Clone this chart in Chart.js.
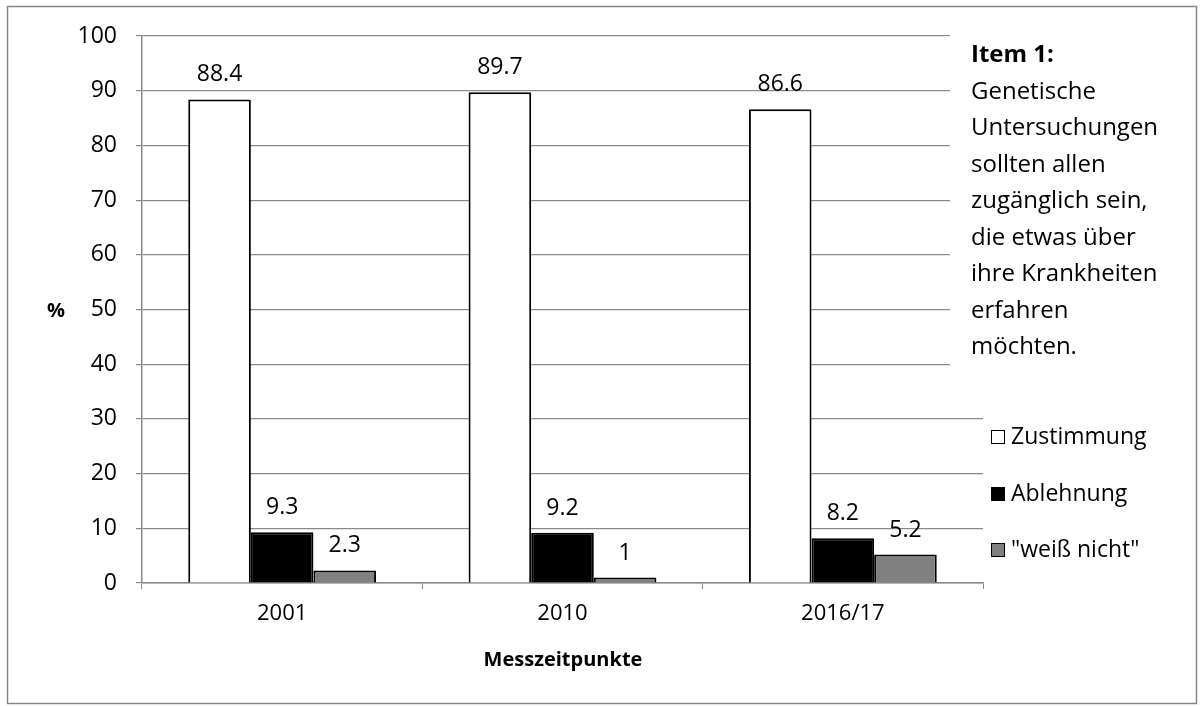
<!DOCTYPE html>
<html lang="de">
  <head>
    <meta charset="UTF-8" />
    <title>Item 1 – Messzeitpunkte</title>
    <script src="https://cdn.jsdelivr.net/npm/chart.js"></script>
    <style>
      body { margin: 0; background: #fff; }
    </style>
  </head>
  <body>
    <canvas id="itemChart" width="1204" height="706"></canvas>
    <script>
      const years = ["2001", "2010", "2016/17"];
      const zustimmung = [88.4, 89.7, 86.6];
      const ablehnung = [9.3, 9.2, 8.2];
      const weissNicht = [2.3, 1, 5.2];
      const seriesNames = ["Zustimmung", "Ablehnung", "\"weiß nicht\""];
      const itemText = [
        "Genetische",
        "Untersuchungen",
        "sollten allen",
        "zugänglich sein,",
        "die etwas über",
        "ihre Krankheiten",
        "erfahren",
        "möchten."
      ];

      const FONT = "'Open Sans', 'Liberation Sans', sans-serif";
      const GRID = "#8a8a8a";

      // values above the bars, frame, item text and legend
      const extras = {
        id: "extras",
        beforeDraw(chart) {
          const c = chart.ctx;
          c.save();
          c.fillStyle = "#fff";
          c.fillRect(0, 0, chart.width, chart.height);
          c.restore();
        },
        afterDatasetsDraw(chart) {
          const c = chart.ctx;
          c.save();
          c.font = "23px " + FONT;
          c.fillStyle = "#000";
          c.textAlign = "center";
          c.textBaseline = "alphabetic";
          chart.data.datasets.forEach((ds, i) => {
            chart.getDatasetMeta(i).data.forEach((bar, j) => {
              c.fillText(String(ds.data[j]), bar.x, bar.y - 18);
            });
          });
          c.restore();
        },
        afterDraw(chart) {
          const c = chart.ctx;
          c.save();
          // outer frame
          c.strokeStyle = "#868686";
          c.lineWidth = 1.5;
          c.strokeRect(7.5, 6.5, 1189, 697);

          // text box covering the grid
          c.fillStyle = "#fff";
          c.fillRect(950, 24, 240, 368);
          c.fillStyle = "#000";
          c.textAlign = "left";
          c.textBaseline = "alphabetic";
          c.font = "bold 24px " + FONT;
          c.fillText("Item 1:", 971, 62);
          c.font = "24px " + FONT;
          itemText.forEach((t, k) => c.fillText(t, 971, 98.5 + k * 36.5));

          // legend
          const ys = [437, 494, 550];
          c.font = "23px " + FONT;
          c.textBaseline = "middle";
          chart.data.datasets.forEach((ds, i) => {
            c.fillStyle = ds.backgroundColor;
            c.fillRect(991, ys[i] - 7, 14, 14);
            c.strokeStyle = "#000";
            c.lineWidth = 1;
            c.strokeRect(991.5, ys[i] - 6.5, 13, 13);
            c.fillStyle = "#000";
            c.fillText(ds.label, 1011, ys[i]);
          });

          // axis titles
          c.font = "bold 20px " + FONT;
          c.textAlign = "center";
          c.fillText("%", 56, 311);
          c.fillText("Messzeitpunkte", 563, 660);
          c.restore();
        }
      };

      const ctx = document.getElementById("itemChart").getContext("2d");
      new Chart(ctx, {
        type: "bar",
        data: {
          labels: years,
          datasets: [
            {
              label: seriesNames[0],
              data: zustimmung,
              backgroundColor: "#ffffff",
              borderColor: "#000000",
              borderWidth: 2
            },
            {
              label: seriesNames[1],
              data: ablehnung,
              backgroundColor: "#000000",
              borderColor: "#000000",
              borderWidth: 2
            },
            {
              label: seriesNames[2],
              data: weissNicht,
              backgroundColor: "#808080",
              borderColor: "#000000",
              borderWidth: 2
            }
          ]
        },
        options: {
          responsive: false,
          animation: false,
          layout: { padding: { top: 36, right: 221, left: 0, bottom: 0 } },
          datasets: {
            bar: { categoryPercentage: 0.67, barPercentage: 1.0 }
          },
          plugins: {
            legend: { display: false },
            tooltip: { enabled: false }
          },
          scales: {
            x: {
              afterFit(s) { s.height = 123; },
              grid: {
                offset: true,
                drawOnChartArea: false,
                drawTicks: true,
                tickLength: 6,
                color: GRID
              },
              border: { color: GRID, width: 1.5 },
              ticks: {
                color: "#000",
                padding: 12,
                font: { family: FONT, size: 22 }
              }
            },
            y: {
              min: 0,
              max: 100,
              afterFit(s) { s.width = 142; },
              grid: { color: GRID, tickLength: 6, lineWidth: 1.2 },
              border: { color: GRID, width: 1.5 },
              ticks: {
                stepSize: 10,
                color: "#000",
                padding: 19,
                font: { family: FONT, size: 23 }
              }
            }
          }
        },
        plugins: [extras]
      });
    </script>
  </body>
</html>
